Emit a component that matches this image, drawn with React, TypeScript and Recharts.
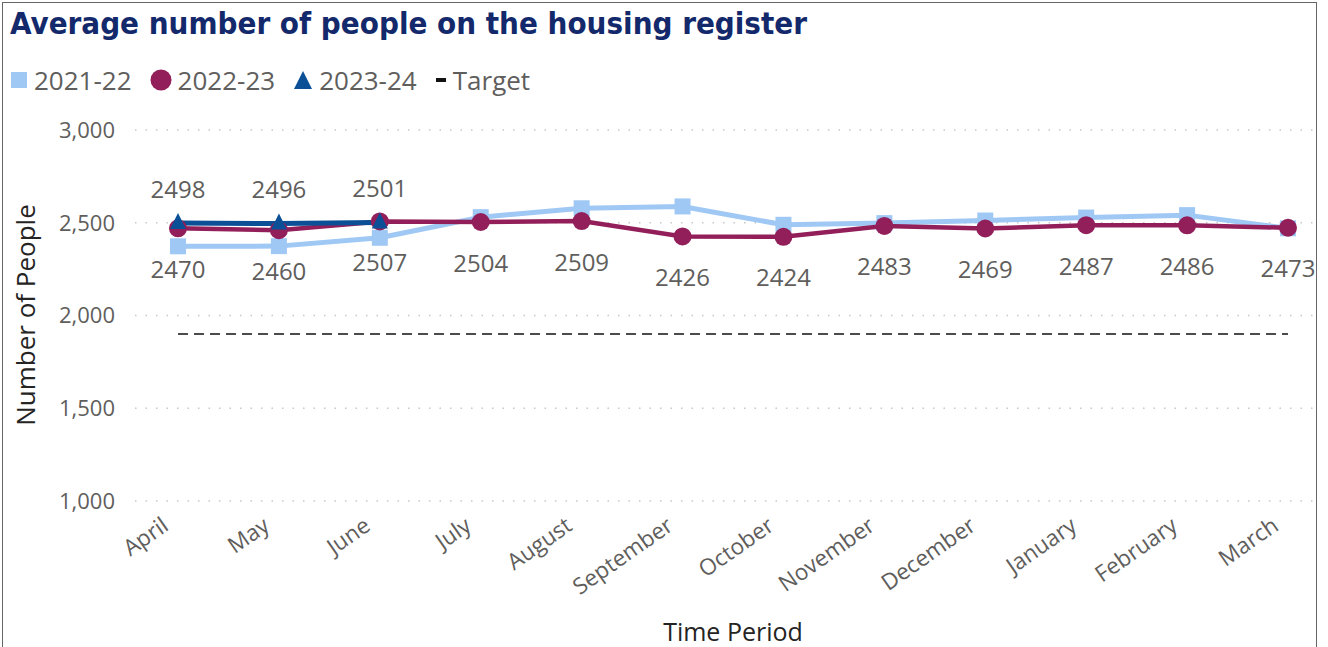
import React from "react";
import { CartesianGrid, LabelList, Line, LineChart, XAxis, YAxis } from "recharts";

const months = [
  "April", "May", "June", "July", "August", "September",
  "October", "November", "December", "January", "February", "March",
];
const fy2122 = [2373, 2374, 2419, 2530, 2578, 2588, 2489, 2498, 2512, 2528, 2541, 2470];
const fy2223 = [2470, 2460, 2507, 2504, 2509, 2426, 2424, 2483, 2469, 2487, 2486, 2473];
const fy2324 = [2498, 2496, 2501];
const target = [1900, 1900, 1900, 1900, 1900, 1900, 1900, 1900, 1900, 1900, 1900, 1900];
const yTicks = [1000, 1500, 2000, 2500, 3000];

const C2122 = "#9fc8f4";
const C2223 = "#921f5a";
const C2324 = "#0b4f96";

const legendItems = [
  { name: "2021-22", color: C2122, shape: "square" },
  { name: "2022-23", color: C2223, shape: "circle" },
  { name: "2023-24", color: C2324, shape: "triangle" },
  { name: "Target", color: "#111", shape: "dash" },
];

const data = months.map((m, i) => ({
  month: m,
  fy2122: fy2122[i],
  fy2223: fy2223[i],
  fy2324: fy2324[i],
  target: target[i],
}));

const FONT = "'Open Sans', 'Noto Sans', sans-serif";
const GREY = "#605e5c";

const SquareDot = (p: any) => {
  if (p.cy == null || p.value == null) return null;
  return <rect key={p.index} x={p.cx - 8} y={p.cy - 8} width={16} height={16} fill={C2122} />;
};
const CircleDot = (p: any) => {
  if (p.cy == null || p.value == null) return null;
  return <circle key={p.index} cx={p.cx} cy={p.cy} r={9} fill={C2223} />;
};
const TriangleDot = (p: any) => {
  if (p.cy == null || p.value == null) return null;
  return (
    <path
      key={p.index}
      d={`M${p.cx},${p.cy - 10} L${p.cx + 8},${p.cy + 6} L${p.cx - 8},${p.cy + 6} Z`}
      fill={C2324}
    />
  );
};

const labelBelow = (p: any) => {
  if (p.value == null) return null;
  return (
    <text x={p.x} y={p.y + 40} textAnchor="middle" dominantBaseline="central"
      fontFamily={FONT} fontSize={24} fill={GREY}>
      {p.value}
    </text>
  );
};
const labelAbove = (p: any) => {
  if (p.value == null) return null;
  return (
    <text x={p.x} y={p.y - 35} textAnchor="middle" dominantBaseline="central"
      fontFamily={FONT} fontSize={24} fill={GREY}>
      {p.value}
    </text>
  );
};

const MonthTick = (p: any) => (
  <g transform={`translate(${p.x - 8},${p.y + 20})`}>
    <text textAnchor="end" transform="rotate(-35)" fontFamily={FONT} fontSize={22.5} fill={GREY}>
      {p.payload.value}
    </text>
  </g>
);

const LegendIcon = ({ shape, color }: { shape: string; color: string }) => {
  if (shape === "square")
    return <svg width={18} height={18}><rect x={1} y={1} width={16} height={16} fill={color} /></svg>;
  if (shape === "circle")
    return <svg width={22} height={22}><circle cx={11} cy={11} r={10.5} fill={color} /></svg>;
  if (shape === "triangle")
    return <svg width={20} height={20}><path d="M10,1 L19,19 L1,19 Z" fill={color} /></svg>;
  return <svg width={12} height={6}><rect x={1} y={1} width={10} height={4} fill={color} /></svg>;
};

export default function App() {
  return (
    <div style={{ position: "absolute", left: 0, top: 0, width: 1328, height: 647, overflow: "hidden", background: "#fff" }}>
      <div style={{ position: "absolute", left: 2, top: 2, width: 1315, height: 660, border: "1px solid #666", boxSizing: "border-box" }} />
      <div style={{
        position: "absolute", left: 10, top: 5, fontFamily: "'DejaVu Sans Condensed', 'DejaVu Sans', sans-serif",
        fontStretch: "condensed", fontWeight: 700, fontSize: 31, color: "#13296b", whiteSpace: "nowrap",
      }}>
        Average number of people on the housing register
      </div>
      <div style={{ position: "absolute", left: 10, top: 62, display: "flex", alignItems: "center", fontFamily: FONT, fontSize: 26, color: GREY, whiteSpace: "nowrap" }}>
        {legendItems.map((it) => (
          <div key={it.name} style={{ display: "flex", alignItems: "center", marginRight: 18 }}>
            <LegendIcon shape={it.shape} color={it.color} />
            <span style={{ marginLeft: 6 }}>{it.name}</span>
          </div>
        ))}
      </div>
      <div style={{
        position: "absolute", left: 25, top: 315, transform: "translate(-50%, -50%) rotate(-90deg)",
        fontFamily: FONT, fontSize: 26, color: "#252423", whiteSpace: "nowrap",
      }}>
        Number of People
      </div>
      <div style={{
        position: "absolute", left: 733, top: 618, transform: "translateX(-50%)", lineHeight: "26px",
        fontFamily: FONT, fontSize: 25, color: "#252423", whiteSpace: "nowrap",
      }}>
        Time Period
      </div>
      <div style={{ position: "absolute", left: 0, top: 0 }}>
        <LineChart width={1328} height={647} data={data} margin={{ top: 130, right: 13, bottom: 0, left: 0 }}>
          <CartesianGrid vertical={false} stroke="#c8c8c8" strokeDasharray="1.5 9" strokeWidth={1.5} />
          <XAxis dataKey="month" axisLine={false} tickLine={false} height={146}
            padding={{ left: 43, right: 27 }} interval={0} tick={<MonthTick />} />
          <YAxis domain={[1000, 3000]} ticks={yTicks} axisLine={false} tickLine={false} width={135}
            tickMargin={14} tickFormatter={(v: number) => v.toLocaleString("en-GB")}
            tick={{ fontFamily: FONT, fontSize: 22, fill: GREY }} />
          <Line dataKey="target" stroke="#111" strokeWidth={1.5} strokeDasharray="10 6" dot={false}
            activeDot={false} isAnimationActive={false} />
          <Line dataKey="fy2122" stroke={C2122} strokeWidth={5} dot={<SquareDot />}
            activeDot={false} isAnimationActive={false} />
          <Line dataKey="fy2223" stroke={C2223} strokeWidth={4.5} dot={<CircleDot />}
            activeDot={false} isAnimationActive={false}>
            <LabelList dataKey="fy2223" content={labelBelow} />
          </Line>
          <Line dataKey="fy2324" stroke={C2324} strokeWidth={5} dot={<TriangleDot />}
            activeDot={false} isAnimationActive={false}>
            <LabelList dataKey="fy2324" content={labelAbove} />
          </Line>
        </LineChart>
      </div>
    </div>
  );
}
